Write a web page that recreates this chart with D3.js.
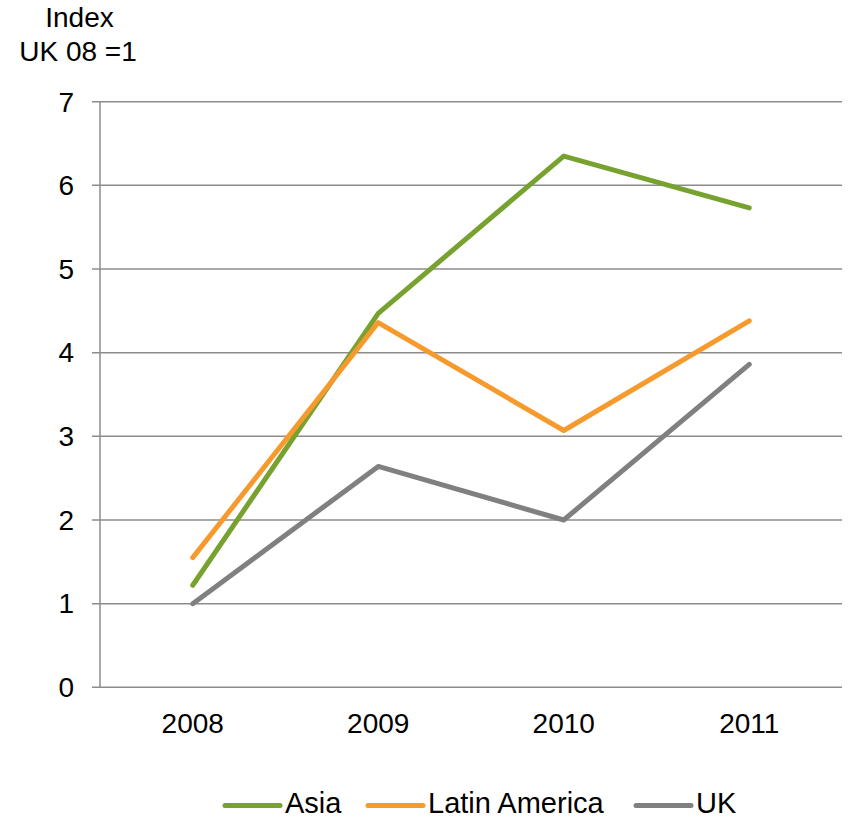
<!DOCTYPE html>
<html><head><meta charset="utf-8">
<script src="https://cdn.jsdelivr.net/npm/d3@7"></script>
<style>body{margin:0;background:#fff}svg{display:block;font-family:"Liberation Sans",Arial,sans-serif}</style>
</head><body><svg id="c" width="849" height="819"></svg>
<script>
const years = ["2008","2009","2010","2011"];
const seriesNames = ["Asia","Latin America","UK"];
const asia = [1.22, 4.47, 6.35, 5.73];
const latam = [1.55, 4.36, 3.07, 4.38];
const uk = [1.0, 2.64, 2.0, 3.86];
const yTicks = [0,1,2,3,4,5,6,7];
const colors = ["#78A22F","#F79A2D","#808080"];

const series = [asia, latam, uk];
const svg = d3.select("#c");
const L = 100, R = 842, T = 101.7, B = 687.3;
const FS = 28;
const x = d3.scaleBand().domain(years).range([L, R]);
const y = d3.scaleLinear().domain([0, 7]).range([B, T]);

// gridlines
svg.append("g").selectAll("line").data(yTicks).join("line")
  .attr("x1", L - 8).attr("x2", R)
  .attr("y1", d => y(d)).attr("y2", d => y(d))
  .attr("stroke", "#8c8c8c").attr("stroke-width", 1.5);
// y axis line
svg.append("line").attr("x1", L).attr("x2", L).attr("y1", T).attr("y2", B)
  .attr("stroke", "#8c8c8c").attr("stroke-width", 1.5);
// y labels
svg.append("g").selectAll("text").data(yTicks).join("text")
  .attr("x", 74).attr("y", d => y(d)).attr("dy", "0.35em")
  .attr("text-anchor", "end").attr("font-size", FS).attr("fill", "#000")
  .text(d => d);
// x labels
svg.append("g").selectAll("text").data(years).join("text")
  .attr("x", d => x(d) + x.bandwidth() / 2).attr("y", 733)
  .attr("text-anchor", "middle").attr("font-size", FS).attr("fill", "#000")
  .text(d => d);

// lines
const line = d3.line().x((d, i) => x(years[i]) + x.bandwidth() / 2).y(d => y(d));
svg.append("g").selectAll("path").data(series).join("path")
  .attr("d", d => line(d)).attr("fill", "none")
  .attr("stroke", (d, i) => colors[i]).attr("stroke-width", 5)
  .attr("stroke-linecap", "round").attr("stroke-linejoin", "round");

// y title
svg.append("text").attr("x", 79.5).attr("y", 27).attr("text-anchor", "middle")
  .attr("font-size", FS).text("Index");
svg.append("text").attr("x", 78).attr("y", 61).attr("text-anchor", "middle")
  .attr("font-size", FS).text("UK 08 =1");

// legend
const legX = [225, 368, 636];
const lg = svg.append("g").selectAll("g").data(seriesNames).join("g")
  .attr("transform", (d, i) => `translate(${legX[i]},805.5)`);
lg.append("line").attr("x1", 0).attr("x2", 55).attr("y1", 0).attr("y2", 0)
  .attr("stroke", (d, i) => colors[i]).attr("stroke-width", 5).attr("stroke-linecap", "round");
lg.append("text").attr("x", 60).attr("y", 7).attr("font-size", 29).text(d => d);
</script></body></html>
